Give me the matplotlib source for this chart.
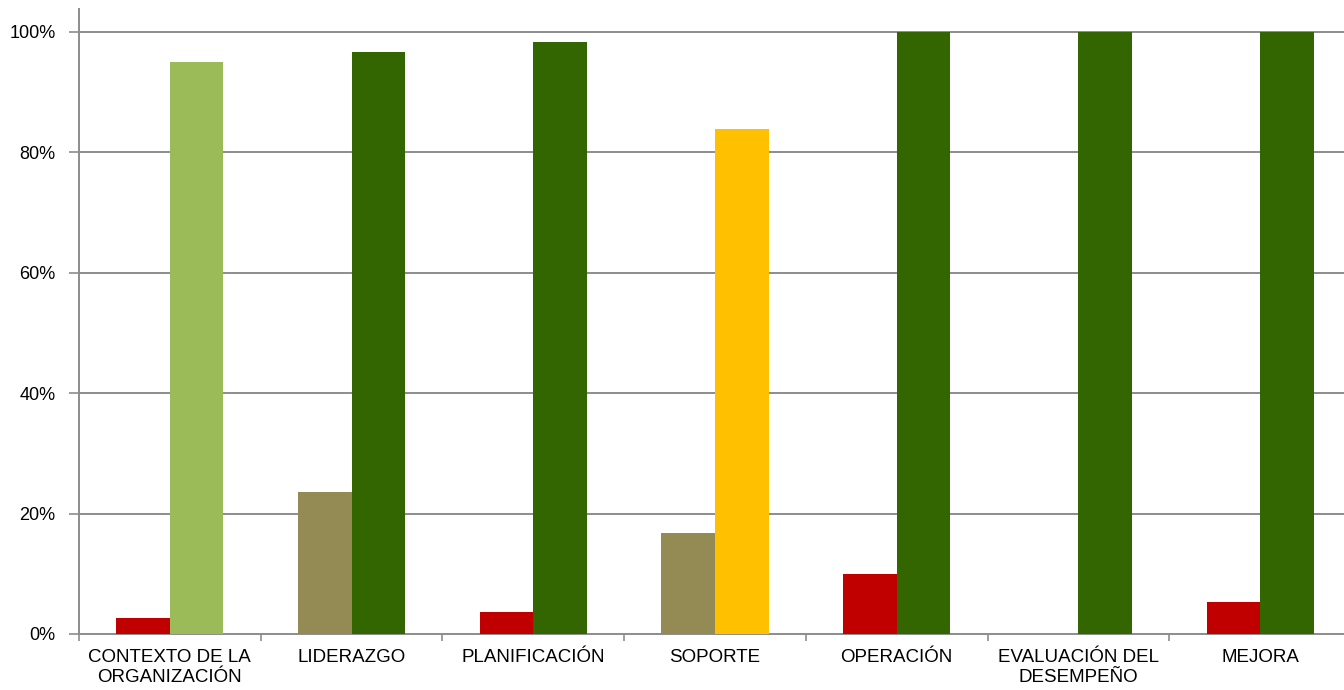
import numpy as np
import matplotlib
matplotlib.use('Agg')
import matplotlib.pyplot as plt
from matplotlib.ticker import FuncFormatter

# data
categorias = ['CONTEXTO DE LA\nORGANIZACIÓN', 'LIDERAZGO', 'PLANIFICACIÓN', 'SOPORTE',
              'OPERACIÓN', 'EVALUACIÓN DEL\nDESEMPEÑO', 'MEJORA']
serie_1 = [2.7, 23.6, 3.6, 16.8, 10.0, 0.0, 5.3]
serie_2 = [95.0, 96.7, 98.4, 83.9, 100.0, 100.0, 100.0]
colores_1 = ['#C00000', '#948A54', '#C00000', '#948A54', '#C00000', '#C00000', '#C00000']
colores_2 = ['#9BBB59', '#336600', '#336600', '#FFC000', '#336600', '#336600', '#336600']
yticks = [0, 20, 40, 60, 80, 100]

plt.rcParams['font.family'] = ['Liberation Sans', 'DejaVu Sans']

fig = plt.figure(figsize=(13.44, 6.9), dpi=100)
W, H = 1344, 690
x0, x1, ytop, ybot = 79, 1351, 9, 634
ax = fig.add_axes([x0 / W, 1 - ybot / H, (x1 - x0) / W, (ybot - ytop) / H])

n = len(categorias)
x = np.arange(n)
w = 0.295
ax.bar(x - w / 2, serie_1, w, color=colores_1, zorder=3, linewidth=0)
ax.bar(x + w / 2, serie_2, w, color=colores_2, zorder=3, linewidth=0)

ax.set_xlim(-0.5, n - 0.5)
ax.set_ylim(0, 103.8)

gris = '#8c8c8c'
ax.set_yticks(yticks)
ax.yaxis.set_major_formatter(FuncFormatter(lambda v, p: '%d%%' % v))
for v in yticks[1:]:
    ax.axhline(v, color=gris, lw=1.4, zorder=1)

# ticks at category boundaries, labels at the centres
ax.set_xticks(np.arange(n + 1) - 0.5)
ax.set_xticklabels([])
ax.set_xticks(x, minor=True)
ax.set_xticklabels(categorias, minor=True, fontsize=13.5, linespacing=1.2)
ax.tick_params(axis='x', which='major', length=5, color=gris, width=1.2)
ax.tick_params(axis='x', which='minor', length=0, pad=11)
ax.tick_params(axis='y', length=7, color=gris, width=1.2, labelsize=13, pad=10)

for s in ['top', 'right']:
    ax.spines[s].set_visible(False)
for s in ['left', 'bottom']:
    ax.spines[s].set_color(gris)
    ax.spines[s].set_linewidth(1.4)

fig.savefig('out.png', dpi=100)
